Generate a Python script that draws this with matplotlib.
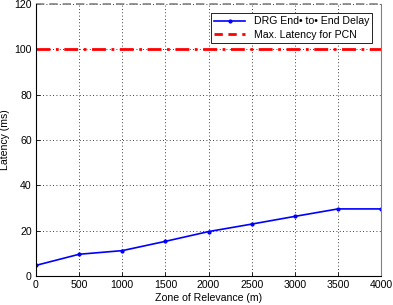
import numpy as np
from matplotlib import pyplot as plt

plt.rcParams['font.family'] = ['Liberation Sans', 'DejaVu Sans']
plt.rcParams['font.size'] = 7.6

zone = [0, 500, 1000, 1500, 2000, 2500, 3000, 3500, 4000]
delay = [4.7, 9.6, 11.2, 15.3, 19.6, 22.9, 26.3, 29.6, 29.6]
max_latency = 100

fig = plt.figure(figsize=(3.93, 3.05), dpi=100)
ax = fig.add_axes([0.0916, 0.095, 0.878, 0.892])

ax.plot(zone, delay, color='blue', marker='.', markersize=4, linewidth=1.2,
        label='DRG End\u2022 to\u2022 End Delay')
ax.axhline(max_latency, color='red', linestyle=(0, (5, 2, 1, 2)), linewidth=2,
           label='Max. Latency for PCN')

ax.set_xlim(0, 4000)
ax.set_ylim(0, 120)
ax.set_xticks(np.arange(0, 4001, 500))
ax.set_yticks(np.arange(0, 121, 20))
ax.grid(True, color='black', linestyle=(0, (1, 3)), linewidth=0.6)
ax.tick_params(direction='in', length=3, width=0.6, pad=3)
ax.set_xlabel('Zone of Relevance (m)', labelpad=2)
ax.set_ylabel('Latency (ms)', labelpad=3)

ax.spines['top'].set_visible(False)
ax.spines['right'].set_color('gray')
ax.axhline(120, color='gray', linestyle=(0, (5, 3)), linewidth=1.2, clip_on=False)

handles, labels = ax.get_legend_handles_labels()
handles[1] = plt.Line2D([], [], color='red', linestyle=(0, (3, 2)), linewidth=2)
leg = ax.legend(handles, labels, loc='upper right', fancybox=False, edgecolor='black',
                framealpha=1, borderpad=0.3, handlelength=3, labelspacing=0.3,
                bbox_to_anchor=(0.99, 0.985))
leg.get_frame().set_linewidth(0.6)

fig.savefig('out.png', dpi=100)
